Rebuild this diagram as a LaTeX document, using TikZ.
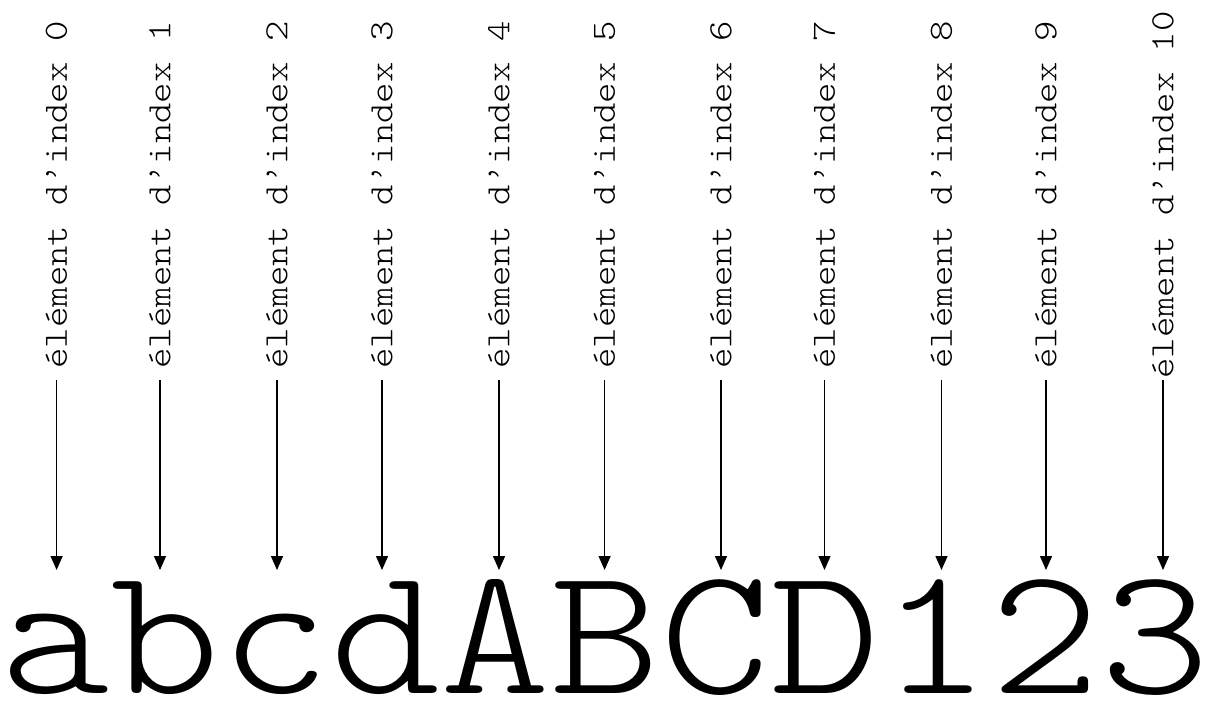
\documentclass[tikz,border=0pt]{standalone}
\usepackage{graphicx}
\usepackage{fontspec}
\newfontfamily\lightmono{Latin Modern Mono Light}
\usetikzlibrary{arrows.meta}
\begin{document}
\begin{tikzpicture}[x=0.5pt,y=-0.5pt,
  lbl/.style={rotate=90, font=\lightmono\fontsize{17}{17}\selectfont, minimum width=185pt, inner sep=0pt},
  bigch/.style={anchor=base, font=\lightmono\fontsize{91.5}{92}\selectfont, inner sep=0pt},
  arr/.style={-{Triangle[length=7pt,width=6pt]}, line width=0.7pt}]
\useasboundingbox (0,0) rectangle (1207,707);
\foreach \i/\x/\lt in {0/56.6/a,1/160/b,2/277/c,3/382/d,4/499/A,5/604.6/B,6/721/C,7/824.5/D,8/941.5/1,9/1046/2,10/1163/3} {
  \node[lbl] (l\i) at (\x,195) {\scalebox{1.143}[1]{élément d’index \i}};
  \node[bigch] (c\i) at ({55+110*\i},693) {\scalebox{1.143}[1]{\lt}};
  \coordinate (t\i) at (\x,570);
  \draw[arr] (l\i.west) -- (t\i);
}
\end{tikzpicture}
\end{document}
